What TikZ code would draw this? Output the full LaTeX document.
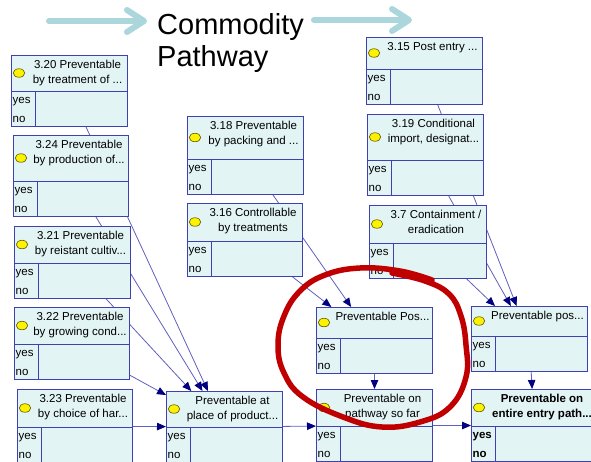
\documentclass[tikz,border=0pt]{standalone}
\usepackage{fontspec}
\setmainfont{Liberation Sans}
\usepackage{xcolor}
\usetikzlibrary{shapes.geometric,arrows.meta,backgrounds}

\definecolor{bnfill}{RGB}{227,244,245}
\definecolor{bnedge}{RGB}{64,64,176}
\definecolor{linkcol}{RGB}{96,96,190}
\definecolor{tipcol}{RGB}{0,0,128}
\definecolor{dotedge}{RGB}{90,90,0}
\definecolor{flowcol}{RGB}{170,214,220}
\definecolor{markred}{RGB}{192,0,0}

\newcommand{\bnfont}{\fontsize{11.5}{15}\selectfont}
% #1 font extra, #2 name, #3 top left corner, #4 width, #5 header height, #6 title
\newcommand{\bnnode}[6][]{%
  \node[bnbox,minimum width=#4pt,minimum height=#5pt+35pt] (#2) at (#3) {};
  \draw[bnrule] ([yshift=-#5pt]#2.north west) -- ([yshift=-#5pt]#2.north east);
  \draw[bnrule] ([xshift=24.5pt,yshift=-#5pt]#2.north west) -- ([xshift=24.5pt]#2.south west);
  \node[bnbullet] (#2-dot) at ([xshift=8pt,yshift=-#5pt/2]#2.north west) {};
  \node[bntitle,font=\bnfont#1] (#2-title) at ([xshift=(#4pt+17pt)/2,yshift=-5pt]#2.north west) {#6};
  \node[bnstate,font=\bnfont#1] (#2-yes) at ([xshift=1.5pt,yshift=-#5pt-10.5pt]#2.north west) {yes};
  \node[bnstate,font=\bnfont#1] (#2-no) at ([xshift=1.5pt,yshift=-#5pt-28.5pt]#2.north west) {no};
}

\begin{document}
\begin{tikzpicture}[x=1pt,y=-1pt,
    bnbox/.style={rectangle,draw=bnedge,fill=bnfill,line width=1pt,inner sep=0pt,anchor=north west},
    bnrule/.style={draw=bnedge,line width=1pt},
    bnbullet/.style={ellipse,draw=dotedge,fill=yellow,line width=0.6pt,minimum width=11.5pt,minimum height=8.5pt,inner sep=0pt},
    bntitle/.style={align=center,anchor=north,inner sep=0pt},
    bnstate/.style={anchor=west,inner sep=0pt},
    bnlink/.style={draw=linkcol,line width=0.8pt,-{Triangle[length=9pt,width=7.5pt,color=tipcol]}},
    flow/.style={draw=flowcol,line width=6pt,line cap=round,-{Straight Barb[length=17pt,width=22pt,round]}},
    headline/.style={font=\fontsize{29}{33}\selectfont,inner sep=0pt,anchor=base west},
    redloop/.style={draw=markred,line width=5.5pt,line cap=round,line join=round}]
    \useasboundingbox (0,0) rectangle (591,461);

    % title
    \draw[flow] (49,21) -- (147,21);
    \node[headline] (ttlA) at (157,34) {Commodity};
    \node[headline] (ttlB) at (157,66) {Pathway};
    \draw[flow] (314,20) -- (412,20);

    % nodes
    \bnnode{n315}{366,37}{116}{32}{3.15 Post entry ...}
    \bnnode{n320}{11,55}{116}{36}{3.20 Preventable\\by treatment of ...}
    \bnnode{n319}{367,114}{116}{46}{3.19 Conditional\\import, designat...}
    \bnnode{n318}{187,116}{116}{43}{3.18 Preventable\\by packing and ...}
    \bnnode{n324}{13,135}{115}{46}{3.24 Preventable\\by production of...}
    \bnnode{n316}{187,203}{115}{38}{3.16 Controllable\\by treatments}
    \bnnode{n37}{369,205}{117}{38}{3.7 Containment /\\eradication}
    \bnnode{n321}{14,226}{116}{37}{3.21 Preventable\\by reistant cultiv...}
    \bnnode{n322}{14,307}{115}{37}{3.22 Preventable\\by growing cond...}
    \bnnode{nposta}{316,307}{116}{31}{Preventable Pos...}
    \bnnode{npostb}{471,306}{116}{30}{Preventable pos...}
    \bnnode{n323}{17,389}{115}{38}{3.23 Preventable\\by choice of har...}
    \bnnode{nplace}{166,391}{116}{36}{Preventable at\\place of product...}
    \bnnode{npath}{316,389}{116}{37}{Preventable on\\pathway so far}
    \bnnode[\bfseries]{nentry}{471,389}{125}{37}{Preventable on\\entire entry path...}

    % links, behind the nodes
    \begin{pgfonlayer}{background}
        \fill[white] (0,0) rectangle (591,461);
        \draw[bnlink] (n320) -- (nplace);
        \draw[bnlink] (n324) -- (nplace);
        \draw[bnlink] (n321) -- (nplace);
        \draw[bnlink] (n322) -- (nplace);
        \draw[bnlink] (n323) -- (nplace);
        \draw[bnlink] (n318) -- (nposta);
        \draw[bnlink] (n316) -- (nposta);
        \draw[bnlink] (n315) -- (npostb);
        \draw[bnlink] (n319) -- (npostb);
        \draw[bnlink] (n37) -- (npostb);
        \draw[bnlink] (nposta) -- (npath);
        \draw[bnlink] (nplace) -- (npath);
        \draw[bnlink] (npostb) -- (nentry);
        \draw[bnlink] (npath) -- (nentry);
    \end{pgfonlayer}

    % hand drawn mark
    \draw[redloop] plot[smooth,tension=0.7] coordinates {(432,280) (400,271) (360,268) (325,275) (300,291)
        (284,316) (278,345) (284,373) (303,397) (343,417) (382,427) (420,422) (450,407)
        (466,377) (466,345) (461,316) (449,294) (425,281) (392,273)};
\end{tikzpicture}
\end{document}
